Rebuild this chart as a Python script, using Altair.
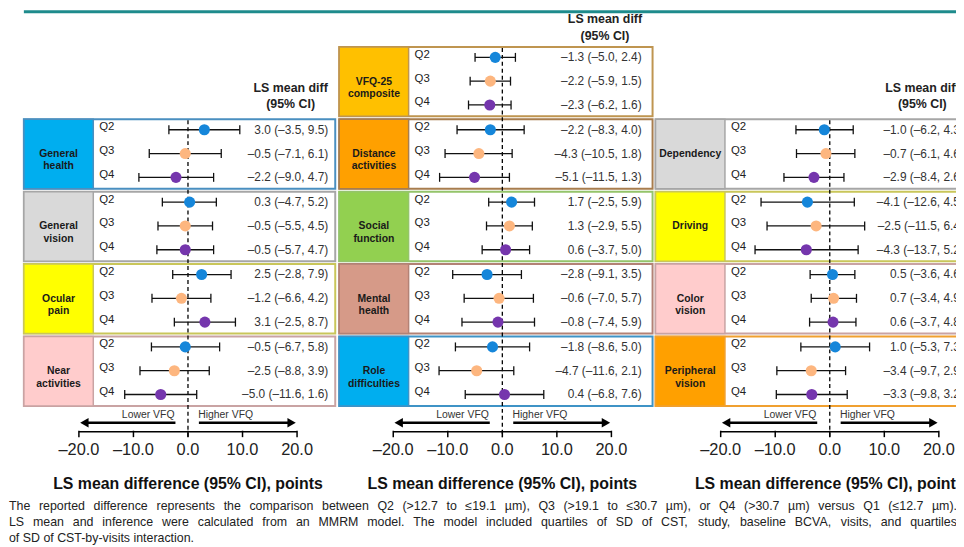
import altair as alt
import pandas as pd

FONT = "Liberation Sans"

# ------------------------------------------------------------------ data
quartiles = ["Q2", "Q3", "Q4"]
quartile_colors = ["#1586DA", "#FDB67F", "#7536AD"]

p1_domains = ["General\nhealth", "General\nvision", "Ocular\npain", "Near\nactivities"]
p1_est = [[3.0, -0.5, -2.2], [0.3, -0.5, -0.5], [2.5, -1.2, 3.1], [-0.5, -2.5, -5.0]]
p1_lo = [[-3.5, -7.1, -9.0], [-4.7, -5.5, -5.7], [-2.8, -6.6, -2.5], [-6.7, -8.8, -11.6]]
p1_hi = [[9.5, 6.1, 4.7], [5.2, 4.5, 4.7], [7.9, 4.2, 8.7], [5.8, 3.9, 1.6]]
p1_fill = ["#00AEEF", "#D9D9D9", "#FFFF00", "#FFCCCC"]
p1_border = ["#4A8FC0", "#A6A6A6", "#C9C65A", "#C9A3A3"]

p2_domains = ["VFQ-25\ncomposite", "Distance\nactivities", "Social\nfunction", "Mental\nhealth", "Role\ndifficulties"]
p2_est = [[-1.3, -2.2, -2.3], [-2.2, -4.3, -5.1], [1.7, 1.3, 0.6], [-2.8, -0.6, -0.8], [-1.8, -4.7, 0.4]]
p2_lo = [[-5.0, -5.9, -6.2], [-8.3, -10.5, -11.5], [-2.5, -2.9, -3.7], [-9.1, -7.0, -7.4], [-8.6, -11.6, -6.8]]
p2_hi = [[2.4, 1.5, 1.6], [4.0, 1.8, 1.3], [5.9, 5.5, 5.0], [3.5, 5.7, 5.9], [5.0, 2.1, 7.6]]
p2_fill = ["#FFC000", "#FFA000", "#92D050", "#D69A88", "#00AEEF"]
p2_border = ["#BF9550", "#A87D4E", "#94C46A", "#B38275", "#3F93C6"]

p3_domains = ["Dependency", "Driving", "Color\nvision", "Peripheral\nvision"]
p3_est = [[-1.0, -0.7, -2.9], [-4.1, -2.5, -4.3], [0.5, 0.7, 0.6], [1.0, -3.4, -3.3]]
p3_lo = [[-6.2, -6.1, -8.4], [-12.6, -11.5, -13.7], [-3.6, -3.4, -3.7], [-5.3, -9.7, -9.8]]
p3_hi = [[4.3, 4.6, 2.6], [4.5, 6.4, 5.2], [4.6, 4.9, 4.8], [7.3, 2.9, 3.2]]
p3_fill = ["#D9D9D9", "#FFFF00", "#FFCCCC", "#FFA000"]
p3_border = ["#A6A6A6", "#C9C65A", "#C9A3A3", "#F0A030"]

tick_values = [-20, -10, 0, 10, 20]
tick_labels = ["–20.0", "–10.0", "0.0", "10.0", "20.0"]
axis_title = "LS mean difference (95% CI), points"
header_lines = ["LS mean diff", "(95% CI)"]
arrow_labels = ["Lower VFQ", "Higher VFQ"]
footnote_lines = [
    "The reported difference represents the comparison between Q2 (>12.7 to ≤19.1 µm), Q3 (>19.1 to ≤30.7 µm), or Q4 (>30.7 µm) versus Q1 (≤12.7 µm).",
    "LS mean and inference were calculated from an MMRM model. The model included quartiles of SD of CST, study, baseline BCVA, visits, and quartiles",
    "of SD of CST-by-visits  interaction.",
]

panels = [
    (p1_domains, p1_est, p1_lo, p1_hi, p1_fill, p1_border),
    (p2_domains, p2_est, p2_lo, p2_hi, p2_fill, p2_border),
    (p3_domains, p3_est, p3_lo, p3_hi, p3_fill, p3_border),
]

# ------------------------------------------------------------------ layout (reference pixel space)
W, H = 956, 539
ZERO_PX = [189.5, 506.5, 836.7]
PX_PER_UNIT = 5.5
BOX_X = [(24, 338, 94), (342, 658, 412), (661, 1000, 731)]
TEXT_RIGHT = [331, 647, 972]
SLOTS = [[1, 2, 3, 4], [0, 1, 2, 3, 4], [1, 2, 3, 4]]
GROUP_TOP = [45, 118, 191, 264, 337]
GROUP_H = 70
ROW_OFF = [10.5, 34.5, 58.5]
HEADER_POS = [(293, 86), (610, 17), (930, 86)]
ARROW_Y, ARROW_TEXT_Y = 424, 416.5
AXIS_Y, TICK_Y2, TICKLAB_Y, TITLE_Y = 433, 438.5, 452, 485.5
FOOT_Y = [507.5, 524, 540.5]
FOOT_SIZE = 12.5

PX = alt.Scale(domain=[8, 8 + W], range=[0, W], zero=False, nice=False)
YS = alt.Scale(domain=[8, 8 + H], range=[0, H], zero=False, nice=False)


def panel_scale(p):
    half = 20 * PX_PER_UNIT
    return alt.Scale(domain=[-20, 20], range=[ZERO_PX[p] - half - 8, ZERO_PX[p] + half - 8],
                     zero=False, nice=False)


def yq(f):
    return alt.Y(f"{f}:Q", scale=YS, axis=None)


def xp(f):
    return alt.X(f"{f}:Q", scale=PX, axis=None)


def fmt(v):
    return f"{v:.1f}".replace("-", "–")


ARIAL_W = {' ': 278, '!': 278, '(': 333, ')': 333, ',': 278, '-': 333, '.': 278, '/': 278,
           ':': 278, '%': 889, '>': 584, '<': 584, '≤': 549, 'µ': 577, '–': 556,
           'A': 667, 'B': 667, 'C': 722, 'D': 722, 'E': 667, 'F': 611, 'G': 778, 'H': 722,
           'I': 278, 'J': 500, 'K': 667, 'L': 556, 'M': 833, 'N': 722, 'O': 778, 'P': 667,
           'Q': 778, 'R': 722, 'S': 667, 'T': 611, 'U': 722, 'V': 667, 'W': 944, 'X': 667,
           'Y': 667, 'Z': 611, 'a': 556, 'b': 556, 'c': 500, 'd': 556, 'e': 556, 'f': 278,
           'g': 556, 'h': 556, 'i': 222, 'j': 222, 'k': 500, 'l': 222, 'm': 833, 'n': 556,
           'o': 556, 'p': 556, 'q': 556, 'r': 333, 's': 500, 't': 278, 'u': 556, 'v': 500,
           'w': 722, 'x': 500, 'y': 500, 'z': 500}


def text_width(s, size):
    return sum(ARIAL_W.get(c, 556) for c in s) * size / 1000.0


# ------------------------------------------------------------------ tables
groups, rows, caps = [], [], []
for p, (names, est, lo, hi, fills, borders) in enumerate(panels):
    x0, x1, xl = BOX_X[p]
    for gi, name in enumerate(names):
        top = GROUP_TOP[SLOTS[p][gi]]
        groups.append(dict(panel=p, name=name, fill=fills[gi], border=borders[gi],
                           x0=x0, x1=x1, xl=xl, xc=(x0 + xl) / 2,
                           y0=top, y1=top + GROUP_H, yc=top + GROUP_H / 2))
        for qi, q in enumerate(quartiles):
            yr = top + ROW_OFF[qi]
            e, l, h = est[gi][qi], lo[gi][qi], hi[gi][qi]
            rows.append(dict(panel=p, q=q, est=e, lo=l, hi=h, y=yr, yql=yr - 2.5,
                             xq=xl + 6, xt=TEXT_RIGHT[p],
                             label=f"{fmt(e)} ({fmt(l)}, {fmt(h)})"))
            for v in (l, h):
                caps.append(dict(panel=p, x=v, y0=yr - 4.5, y1=yr + 4.5))

groups = pd.DataFrame(groups)
rows = pd.DataFrame(rows)
caps = pd.DataFrame(caps)

headers = pd.DataFrame([dict(x=hx, y=hy + i * 16.5, t=header_lines[i])
                        for hx, hy in HEADER_POS for i in range(2)])

foot = []
for li, line in enumerate(footnote_lines[:2]):
    words = line.split(" ")
    widths = [text_width(w, FOOT_SIZE) for w in words]
    x_left, x_right = 9, 965
    gap = (x_right - x_left - sum(widths)) / (len(words) - 1)
    x = x_left
    for w, wd in zip(words, widths):
        foot.append(dict(x=x, y=FOOT_Y[li], t=w))
        x += wd + gap
foot.append(dict(x=9, y=FOOT_Y[2], t=footnote_lines[2]))
foot = pd.DataFrame(foot)

teal = pd.DataFrame(dict(x=[24], x2=[964], y=[9.5]))

# ------------------------------------------------------------------ pixel-space layers
base_txt = dict(font=FONT, baseline="middle")
pixel_layers = alt.layer(
    alt.Chart(teal).mark_rule(color="#1E8B8C", strokeWidth=3).encode(
        x=xp("x"), x2="x2", y=yq("y")),
    alt.Chart(groups).mark_rect(fill="white", strokeWidth=2).encode(
        x=xp("x0"), x2="x1", y=yq("y0"), y2="y1",
        stroke=alt.Stroke("border:N", scale=None)),
    alt.Chart(groups).mark_rect(strokeWidth=1.5).encode(
        x=xp("x0"), x2="xl", y=yq("y0"), y2="y1",
        fill=alt.Fill("fill:N", scale=None), stroke=alt.Stroke("border:N", scale=None)),
    alt.Chart(groups).mark_text(align="center", fontSize=10.5, fontWeight="bold",
                                lineBreak="\n", lineHeight=12.5, color="#1a1a1a", **base_txt).encode(
        x=xp("xc"), y=yq("yc"), text="name:N"),
    alt.Chart(rows).mark_text(align="left", fontSize=11.5, color="#222222", **base_txt).encode(
        x=xp("xq"), y=yq("yql"), text="q:N"),
    alt.Chart(rows).mark_text(align="right", fontSize=12, color="#333333", **base_txt).encode(
        x=xp("xt"), y=yq("y"), text="label:N"),
    alt.Chart(headers).mark_text(align="center", fontSize=12.5, fontWeight="bold",
                                 color="#222222", **base_txt).encode(
        x=xp("x"), y=yq("y"), text="t:N"),
    alt.Chart(foot).mark_text(align="left", fontSize=FOOT_SIZE, color="#222222", **base_txt).encode(
        x=xp("x"), y=yq("y"), text="t:N"),
)

# ------------------------------------------------------------------ panel (data-unit) layers
panel_layers = []
for p in range(3):
    sc = panel_scale(p)

    def xs(f, sc=sc):
        return alt.X(f"{f}:Q", scale=sc, axis=None)

    r = rows[rows.panel == p]
    c = caps[caps.panel == p]
    first_top = GROUP_TOP[SLOTS[p][0]]
    zero = pd.DataFrame(dict(x=[0], y=[first_top + 1], y2=[TICK_Y2]))
    shafts = pd.DataFrame(dict(x=[-2.3, 2.0], x2=[-18.6, 18.6], y=[ARROW_Y, ARROW_Y]))
    heads = pd.DataFrame(dict(x=[-19.0, 19.0], y=[ARROW_Y, ARROW_Y],
                              shape=["triangle-left", "triangle-right"]))
    alabels = pd.DataFrame(dict(x=[-7.3, 6.9], y=[ARROW_TEXT_Y, ARROW_TEXT_Y], t=arrow_labels))
    axis_line = pd.DataFrame(dict(x=[-20], x2=[20], y=[AXIS_Y]))
    ticks = pd.DataFrame(dict(x=tick_values, y=[AXIS_Y - 1] * 5, y2=[TICK_Y2] * 5,
                              t=tick_labels, ty=[TICKLAB_Y] * 5))
    title = pd.DataFrame(dict(x=[0], y=[TITLE_Y], t=[axis_title]))

    panel_layers.append(alt.layer(
        alt.Chart(zero).mark_rule(color="black", strokeWidth=1.3, strokeDash=[4, 3]).encode(
            x=xs("x"), y=yq("y"), y2="y2"),
        alt.Chart(r).mark_rule(color="#111111", strokeWidth=1.3).encode(
            x=xs("lo"), x2="hi", y=yq("y")),
        alt.Chart(c).mark_rule(color="#111111", strokeWidth=1.3).encode(
            x=xs("x"), y=yq("y0"), y2="y1"),
        alt.Chart(r).mark_circle(size=125, opacity=1).encode(
            x=xs("est"), y=yq("y"),
            color=alt.Color("q:N", scale=alt.Scale(domain=quartiles, range=quartile_colors),
                            legend=None)),
        alt.Chart(shafts).mark_rule(color="black", strokeWidth=2.6).encode(
            x=xs("x"), x2="x2", y=yq("y")),
        alt.Chart(heads).mark_point(filled=True, size=95, color="black", opacity=1).encode(
            x=xs("x"), y=yq("y"), shape=alt.Shape("shape:N", scale=None)),
        alt.Chart(alabels).mark_text(align="center", fontSize=10.5, color="#333333",
                                     **base_txt).encode(
            x=xs("x"), y=yq("y"), text="t:N"),
        alt.Chart(axis_line).mark_rule(color="black", strokeWidth=1.5).encode(
            x=xs("x"), x2="x2", y=yq("y")),
        alt.Chart(ticks).mark_rule(color="black", strokeWidth=1.5).encode(
            x=xs("x"), y=yq("y"), y2="y2"),
        alt.Chart(ticks).mark_text(align="center", fontSize=16.5, color="#222222",
                                   **base_txt).encode(
            x=xs("x"), y=yq("ty"), text="t:N"),
        alt.Chart(title).mark_text(align="center", fontSize=16, fontWeight="bold",
                                   color="#111111", **base_txt).encode(
            x=xs("x"), y=yq("y"), text="t:N"),
    ))

chart = alt.layer(pixel_layers, *panel_layers).resolve_scale(x="independent").properties(
    width=W, height=H, padding=0, autosize=alt.AutoSizeParams(type="none"),
    background="white",
).configure_view(stroke=None)

chart.save("out.html", embed_options={"renderer": "svg", "actions": False})
